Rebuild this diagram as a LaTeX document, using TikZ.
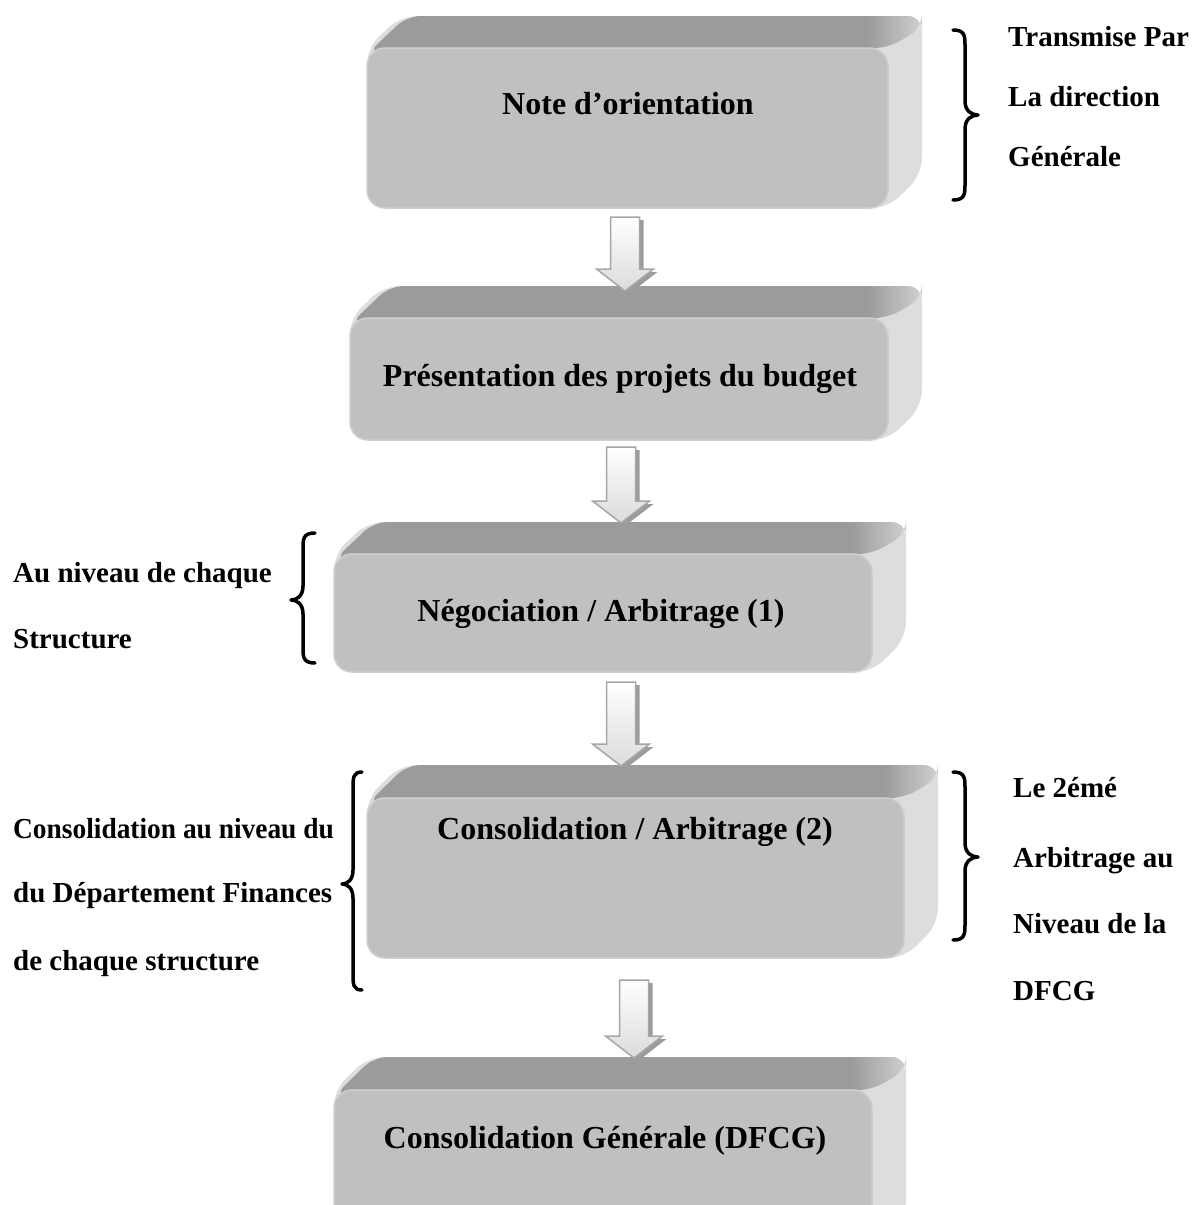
\documentclass[tikz,border=0pt]{standalone}
\usepackage{fontspec}
\setmainfont{Liberation Serif}
\definecolor{frontgray}{HTML}{C0C0C0}
\definecolor{topgray}{HTML}{9B9B9B}
\definecolor{toplight}{HTML}{D2D2D2}
\definecolor{sidegray}{HTML}{DDDDDD}
\definecolor{frontedge}{HTML}{CFCFCF}
\definecolor{arrowedge}{HTML}{A6A6A6}
\definecolor{arrowshadow}{HTML}{9C9C9C}
\tikzset{
  sideface/.style={fill=sidegray, rounded corners=16pt},
  topface/.style={rounded corners=14pt},
  frontface/.style={fill=frontgray, draw=frontedge, line width=1.5pt, rounded corners=18pt},
  boxtext/.style={font=\fontsize{32}{38}\selectfont\bfseries, inner sep=0pt, anchor=base},
  sidetext/.style={font=\fontsize{29}{35}\selectfont\bfseries, inner sep=0pt, anchor=base west},
  bracestyle/.style={draw=black, line width=3.5pt, line cap=round, line join=round},
  arrowfill/.style={top color=white, bottom color=black!14, draw=arrowedge, line width=1.5pt},
  arrowshade/.style={fill=arrowshadow}
}
% #1 left, #2 right (front), #3 back top, #4 front top, #5 bottom
\newcommand\bevelbox[5]{%
  \path[sideface] (#1,#4) -- (#1+34,#3) -- (#2+34,#3) -- (#2+34,#5-34) -- (#2,#5) -- (#1,#5) -- cycle;
  \begin{scope}
    \clip[topface] (#1,#4+6) -- (#1+40,#3) -- (#2+34,#3) -- (#2+34,#4-20) -- (#2,#4) -- cycle;
    \fill[topgray] (#1-5,#3-5) rectangle (#2-20,#4+10);
    \shade[left color=topgray, right color=toplight] (#2-20,#3-5) rectangle (#2+36,#4+10);
  \end{scope}
  \draw[frontface] (#1,#4) rectangle (#2,#5);
}
% #1 name, #2 x, #3 top, #4 tip
\newcommand\blockarrow[4]{%
  \coordinate (#1s) at (#2,#3);
  \coordinate (#1e) at (#2,#4);
  \path[arrowshade] (#2-14.5+4,#3+3) -- (#2+14.5+4,#3+3) -- (#2+14.5+4,#4-22+3) -- (#2+28.5+4,#4-22+3) -- (#2+4,#4+3) -- (#2-28.5+4,#4-22+3) -- (#2-14.5+4,#4-22+3) -- cycle;
  \shade[arrowfill] (#1s) ++(-14.5,0) -- ++(29,0) -- (#2+14.5,#4-22) -- (#2+28.5,#4-22) -- (#1e) -- (#2-28.5,#4-22) -- (#2-14.5,#4-22) -- cycle;
}
% #1 end x, #2 stem x, #3 tip x, #4 top y, #5 mid y, #6 bottom y
\newcommand\curlybrace[6]{%
  \draw[bracestyle] (#1,#4) .. controls (#2,#4) and (#2,#4+6) .. (#2,#4+16)
    -- (#2,#5-14) .. controls (#2,#5-4) and ({(#2+#3)/2},#5) .. (#3,#5)
    .. controls ({(#2+#3)/2},#5) and (#2,#5+4) .. (#2,#5+14)
    -- (#2,#6-16) .. controls (#2,#6-6) and (#2,#6) .. (#1,#6);
}
\begin{document}
\begin{tikzpicture}[x=1pt,y=-1pt]
\useasboundingbox (0,0) rectangle (1198,1205);
\begin{scope}
\clip (0,0) rectangle (1198,1205);
% boxes
\bevelbox{367}{888}{16}{48}{208}
\node[boxtext] (b1) at (628,114) {Note d’orientation};
\bevelbox{350}{888}{286}{318}{440}
\node[boxtext] (b2) at (620,386) {Présentation des projets du budget};
\bevelbox{334}{872}{522}{554}{672}
\node[boxtext] (b3) at (601,621) {Négociation / Arbitrage (1)};
\bevelbox{367}{904}{765}{798}{958}
\node[boxtext] (b4) at (635,839) {Consolidation / Arbitrage (2)};
\bevelbox{334}{872}{1057}{1090}{1250}
\node[boxtext] (b5) at (605,1148) {Consolidation Générale (DFCG)};
% arrows
\blockarrow{a1}{625}{217}{291}
\blockarrow{a2}{621}{447}{523}
\blockarrow{a3}{621}{682}{766}
\blockarrow{a4}{634}{980}{1058}
\end{scope}
% braces
\curlybrace{953}{965}{978}{30}{115}{200}
\curlybrace{315}{303}{291}{533}{600}{663}
\curlybrace{362}{353}{342}{772}{884}{990}
\curlybrace{953}{965}{978}{772}{857}{940}
% side texts
\node[sidetext] (r1) at (1008,46) {Transmise Par};
\node[sidetext] (r2) at (1008,106) {La direction};
\node[sidetext] (r3) at (1008,166) {Générale};
\node[sidetext] (l1) at (13,582) {Au niveau de chaque};
\node[sidetext] (l2) at (13,648) {Structure};
\node[sidetext] (m1) at (13,838) {\scalebox{0.945}[1]{Consolidation au niveau du}};
\node[sidetext] (m2) at (13,902) {du Département Finances};
\node[sidetext] (m3) at (13,970) {de chaque structure};
\node[sidetext] (n1) at (1013,797) {Le 2émé};
\node[sidetext] (n2) at (1013,867) {Arbitrage au};
\node[sidetext] (n3) at (1013,933) {Niveau de la};
\node[sidetext] (n4) at (1013,1000) {DFCG};
\end{tikzpicture}
\end{document}
